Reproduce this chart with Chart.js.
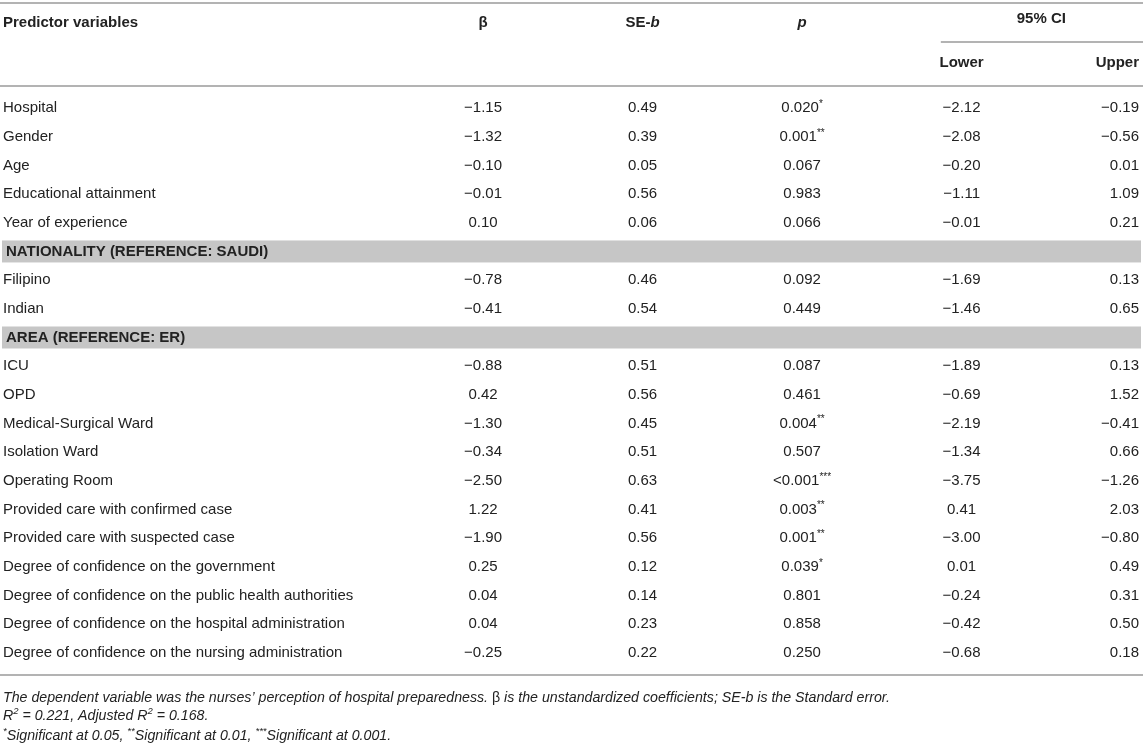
<!DOCTYPE html>
<html lang="en">
<head>
<meta charset="UTF-8">
<title>Regression table</title>
<script src="https://cdn.jsdelivr.net/npm/chart.js"></script>
<style>
  body { margin: 0; background: #fff; }
  #wrap { width: 1143px; height: 744px; }
</style>
</head>
<body>
<div id="wrap"><canvas id="tableChart" width="1143" height="744"></canvas></div>
<script>
// rows of the table (section headers have no values)
const predictors = [
  'Hospital', 'Gender', 'Age', 'Educational attainment', 'Year of experience',
  'NATIONALITY (REFERENCE: SAUDI)', 'Filipino', 'Indian',
  'AREA (REFERENCE: ER)', 'ICU', 'OPD', 'Medical-Surgical Ward', 'Isolation Ward',
  'Operating Room', 'Provided care with confirmed case', 'Provided care with suspected case',
  'Degree of confidence on the government', 'Degree of confidence on the public health authorities',
  'Degree of confidence on the hospital administration', 'Degree of confidence on the nursing administration'
];
const sectionRows = ['NATIONALITY (REFERENCE: SAUDI)', 'AREA (REFERENCE: ER)'];

const beta    = [-1.15, -1.32, -0.10, -0.01, 0.10, null, -0.78, -0.41, null, -0.88, 0.42, -1.30, -0.34, -2.50, 1.22, -1.90, 0.25, 0.04, 0.04, -0.25];
const seB     = [0.49, 0.39, 0.05, 0.56, 0.06, null, 0.46, 0.54, null, 0.51, 0.56, 0.45, 0.51, 0.63, 0.41, 0.56, 0.12, 0.14, 0.23, 0.22];
const pValues = ['0.020', '0.001', '0.067', '0.983', '0.066', null, '0.092', '0.449', null, '0.087', '0.461', '0.004', '0.507', '<0.001', '0.003', '0.001', '0.039', '0.801', '0.858', '0.250'];
const pStars  = ['*', '**', '', '', '', null, '', '', null, '', '', '**', '', '***', '**', '**', '*', '', '', ''];
const ciLower = [-2.12, -2.08, -0.20, -1.11, -0.01, null, -1.69, -1.46, null, -1.89, -0.69, -2.19, -1.34, -3.75, 0.41, -3.00, 0.01, -0.24, -0.42, -0.68];
const ciUpper = [-0.19, -0.56, 0.01, 1.09, 0.21, null, 0.13, 0.65, null, 0.13, 1.52, -0.41, 0.66, -1.26, 2.03, -0.80, 0.49, 0.31, 0.50, 0.18];

const columnKeys = ['β', 'SE-b', 'p', 'Lower', 'Upper'];

const FONT = '"Liberation Sans", Arial, Helvetica, sans-serif';
const TEXT = '#222';
const RULE = '#b3b3b3';
const BAND = '#c6c6c6';

function fmt(v) {
  return v.toFixed(2).replace('-', '\u2212');
}

// text pieces: [text, font, raise]
function runsWidth(ctx, runs) {
  let w = 0;
  runs.forEach(r => { ctx.font = r[1]; w += ctx.measureText(r[0]).width; });
  return w;
}
function drawRuns(ctx, runs, x, y, align) {
  let w = runsWidth(ctx, runs);
  let cx = align === 'center' ? x - w / 2 : (align === 'right' ? x - w : x);
  runs.forEach(r => {
    ctx.font = r[1];
    ctx.textAlign = 'left';
    ctx.fillText(r[0], cx, y - (r[2] || 0));
    cx += ctx.measureText(r[0]).width;
  });
}

function cellRuns(col, i) {
  const reg = '15px ' + FONT;
  if (col === 0) return [[fmt(beta[i]), reg]];
  if (col === 1) return [[fmt(seB[i]), reg]];
  if (col === 2) {
    const r = [[pValues[i], reg]];
    if (pStars[i]) r.push([pStars[i], '10px ' + FONT, 4]);
    return r;
  }
  if (col === 3) return [[fmt(ciLower[i]), reg]];
  return [[fmt(ciUpper[i]), reg]];
}

const tablePlugin = {
  id: 'tablePlugin',
  beforeDatasetsDraw(chart) {
    const ctx = chart.ctx, area = chart.chartArea, y = chart.scales.y;
    ctx.save();
    // section bands
    predictors.forEach((name, i) => {
      if (sectionRows.includes(name)) {
        ctx.fillStyle = BAND;
        ctx.fillRect(area.left - 1, y.getPixelForValue(i) - 11, area.right - area.left + 1, 22);
      }
    });
    ctx.restore();
  },
  afterDatasetsDraw(chart) {
    const ctx = chart.ctx, area = chart.chartArea, x = chart.scales.x, y = chart.scales.y;
    ctx.save();
    ctx.fillStyle = TEXT;
    ctx.textBaseline = 'middle';

    // rules
    ctx.strokeStyle = RULE;
    ctx.lineWidth = 2;
    const hline = (x0, x1, yy) => { ctx.beginPath(); ctx.moveTo(x0, yy); ctx.lineTo(x1, yy); ctx.stroke(); };
    hline(area.left - 3, area.right + 2, 3);
    hline(x.getPixelForValue(2.87), area.right + 2, area.top - 44);
    hline(area.left - 3, area.right + 2, area.top);
    hline(area.left - 3, area.right + 2, area.bottom);

    // header
    const bold = 'bold 15px ' + FONT;
    const boldIt = 'italic bold 15px ' + FONT;
    const hy = area.top - 63;
    drawRuns(ctx, [['Predictor variables', bold]], area.left, hy, 'left');
    drawRuns(ctx, [['β', bold]], x.getPixelForValue(0), hy, 'center');
    drawRuns(ctx, [['SE-', bold], ['b', boldIt]], x.getPixelForValue(1), hy, 'center');
    drawRuns(ctx, [['p', boldIt]], x.getPixelForValue(2), hy, 'center');
    drawRuns(ctx, [['95% CI', bold]], (x.getPixelForValue(3) + x.getPixelForValue(4)) / 2, area.top - 67, 'center');
    drawRuns(ctx, [['Lower', bold]], x.getPixelForValue(3), area.top - 23, 'center');
    drawRuns(ctx, [['Upper', bold]], area.right - 2, area.top - 23, 'right');

    // first column
    predictors.forEach((name, i) => {
      const isSection = sectionRows.includes(name);
      drawRuns(ctx, [[name, (isSection ? 'bold ' : '') + '15px ' + FONT]], area.left + (isSection ? 3 : 0), y.getPixelForValue(i), 'left');
    });

    // value cells, placed at the dataset points
    chart.data.datasets.forEach((ds, c) => {
      const meta = chart.getDatasetMeta(c);
      meta.data.forEach((pt, j) => {
        const row = ds.data[j].y;
        const runs = cellRuns(c, row);
        if (c === 4) drawRuns(ctx, runs, area.right - 2, pt.y, 'right');
        else drawRuns(ctx, runs, pt.x, pt.y, 'center');
      });
    });

    // notes
    const it = 'italic 14.2px ' + FONT;
    const up = '14.2px ' + FONT;
    const sup = 'italic 9.5px ' + FONT;
    const nx = area.left;
    drawRuns(ctx, [
      ['The dependent variable was the nurses\u2019 perception of hospital preparedness. ', it],
      ['\u03b2', up],
      [' is the unstandardized coefficients; SE-b is the Standard error.', it]
    ], nx, area.bottom + 23, 'left');
    drawRuns(ctx, [
      ['R', it], ['2', sup, 5], [' = 0.221, Adjusted R', it], ['2', sup, 5], [' = 0.168.', it]
    ], nx, area.bottom + 41, 'left');
    drawRuns(ctx, [
      ['*', sup, 5], ['Significant at 0.05, ', it],
      ['**', sup, 5], ['Significant at 0.01, ', it],
      ['***', sup, 5], ['Significant at 0.001.', it]
    ], nx, area.bottom + 61, 'left');
    ctx.restore();
  }
};

const valueColumns = [beta, seB, pValues, ciLower, ciUpper];
const datasets = valueColumns.map((vals, c) => ({
  label: columnKeys[c],
  data: vals.map((v, i) => (v === null ? null : { x: c, y: i })).filter(d => d !== null),
  pointRadius: 0,
  pointHoverRadius: 0,
  showLine: false
}));

new Chart(document.getElementById('tableChart').getContext('2d'), {
  type: 'scatter',
  data: { datasets: datasets },
  options: {
    responsive: false,
    animation: false,
    events: [],
    layout: { padding: { left: 3, right: 2, top: 86, bottom: 69 } },
    plugins: { legend: { display: false }, tooltip: { enabled: false } },
    scales: {
      x: { type: 'linear', display: false, min: -3.01, max: 4.125 },
      y: { type: 'linear', display: false, reverse: true, min: -0.77, max: 19.77 }
    }
  },
  plugins: [tablePlugin]
});
</script>
</body>
</html>
